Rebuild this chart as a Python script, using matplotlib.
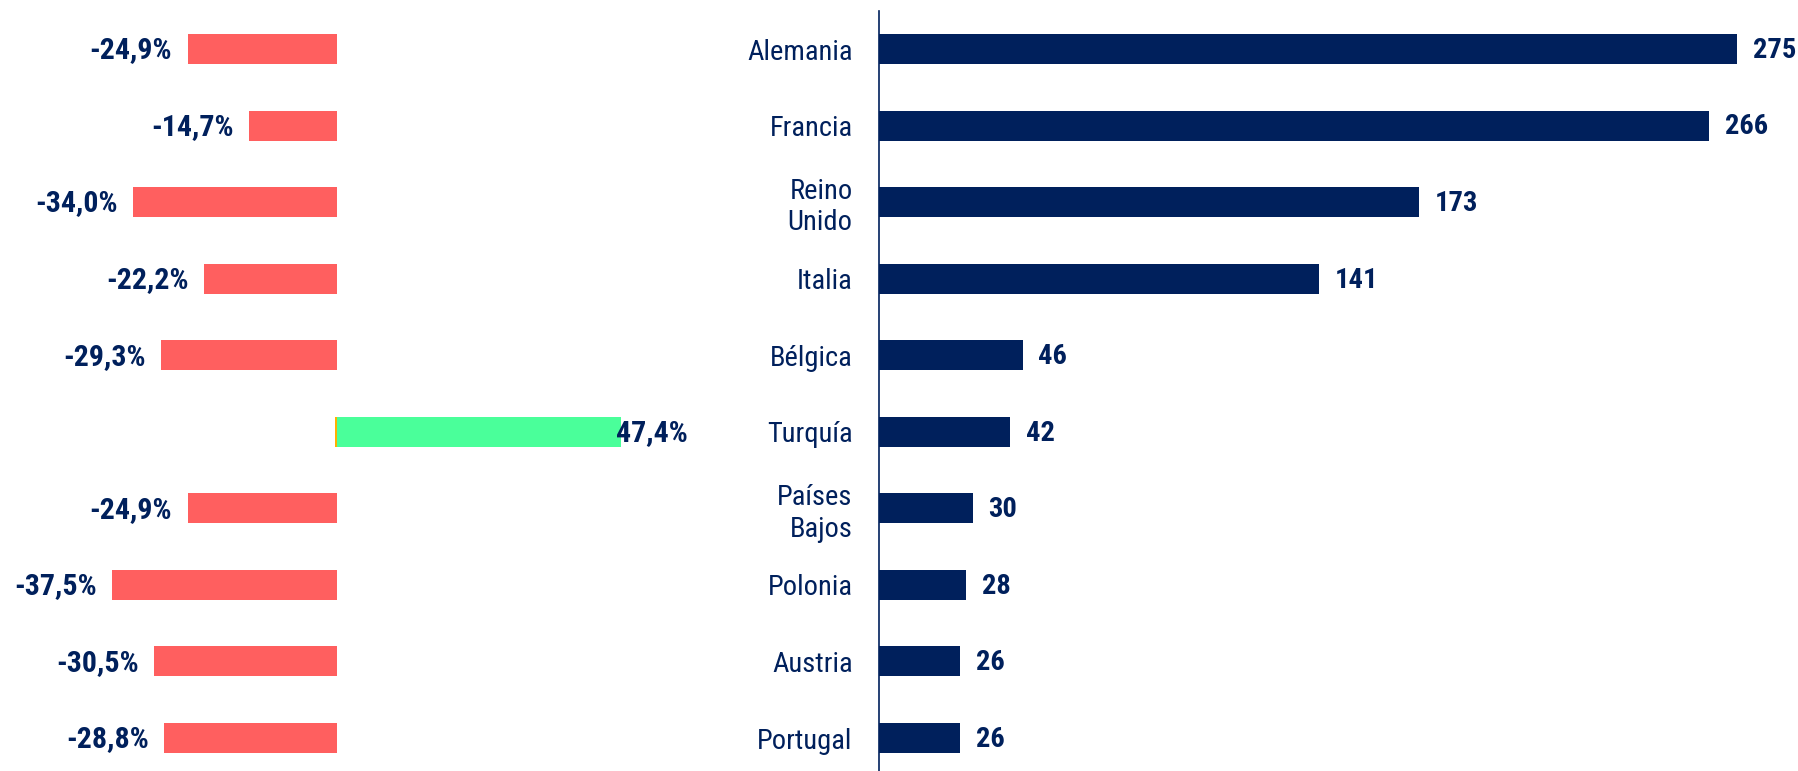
import numpy as np
import matplotlib.pyplot as plt

paises = ['Alemania', 'Francia', 'Reino\nUnido', 'Italia', 'Bélgica',
          'Turquía', 'Países\nBajos', 'Polonia', 'Austria', 'Portugal']
valores = [275, 266, 173, 141, 46, 42, 30, 28, 26, 26]
variacion = [-24.9, -14.7, -34.0, -22.2, -29.3, 47.4, -24.9, -37.5, -30.5, -28.8]

navy = '#00205C'
rojo = '#FF5F5F'
verde = '#4AFF9A'
naranja = '#FFB000'

plt.rcParams['font.family'] = ['Roboto Condensed', 'DejaVu Sans']

W, H = 1799, 771
fig = plt.figure(figsize=(W / 100, H / 100), dpi=100)

y = np.arange(len(paises))
# rows from 49px to 738px from top
paso = (738 - 49) / 9
ylim = (9 + (H - 738) / paso, -49 / paso)
alto = 30 / paso

# left axis: zero at x=337px, 6 px per %
axl = fig.add_axes([0, 0, 800 / W, 1])
axl.set_xlim(-337 / 6, (800 - 337) / 6)
axl.set_ylim(*ylim)
axl.axis('off')
colores = [verde if v > 0 else rojo for v in variacion]
axl.barh(y, variacion, height=alto, color=colores)
i_pos = [i for i, v in enumerate(variacion) if v > 0]
axl.barh(i_pos, [0.35] * len(i_pos), left=[-0.35] * len(i_pos), height=alto, color=naranja)
for yi, v in zip(y, variacion):
    txt = f'{v:.1f}%'.replace('.', ',')
    if v < 0:
        axl.annotate(txt, (v, yi), xytext=(-11, -1), textcoords='offset points',
                     ha='right', va='center', fontsize=21.5, fontweight='bold', color=navy)
    else:
        axl.annotate(txt, (v, yi), xytext=(-4, -1), textcoords='offset points',
                     ha='left', va='center', fontsize=21.5, fontweight='bold', color=navy)

# right axis: zero at x=879px, 3.12 px per unit
x0 = 879
axr = fig.add_axes([x0 / W, 0, (W - x0) / W, 1])
axr.set_xlim(0, (W - x0) / 3.12)
axr.set_ylim(*ylim)
axr.barh(y, valores, height=alto, color=navy)
for yi, v in zip(y, valores):
    axr.annotate(str(v), (v, yi), xytext=(11.5, -1), textcoords='offset points',
                 ha='left', va='center', fontsize=20.5, fontweight='bold', color=navy)
axr.set_yticks(y)
axr.set_yticklabels(paises, fontsize=20.5, color=navy)
axr.tick_params(axis='y', length=0, pad=19)
axr.set_xticks([])
for s in ['top', 'right', 'bottom']:
    axr.spines[s].set_visible(False)
axr.spines['left'].set_color(navy)
axr.spines['left'].set_linewidth(1.2)
axr.spines['left'].set_bounds(ylim[0], -0.5)
axr.patch.set_alpha(0)

fig.savefig('out.png', dpi=100)
